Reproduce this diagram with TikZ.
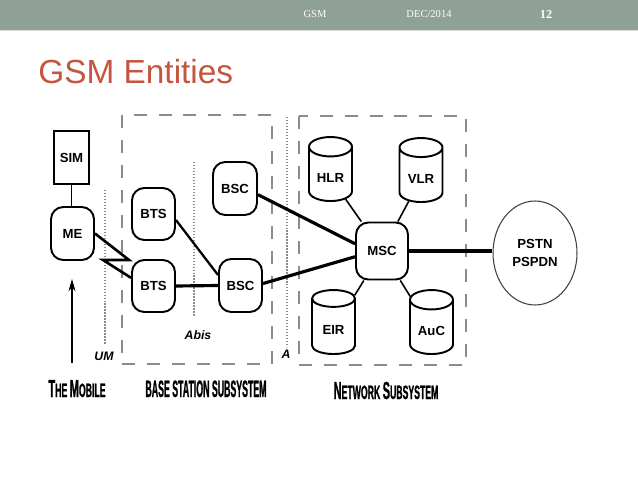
\documentclass[tikz,border=0pt]{standalone}
\usepackage{fontspec}
\setmainfont{Liberation Sans}
\newfontfamily\headfont{Liberation Serif}
\newfontfamily\handfont[FakeStretch=0.45,FakeBold=0.8]{Liberation Sans}
\newfontfamily\handfontnarrow[FakeStretch=0.37,FakeBold=0.8]{Liberation Sans}
\usetikzlibrary{shapes.geometric,arrows.meta}

\definecolor{hdrgreen}{RGB}{143,160,150}
\definecolor{titlered}{RGB}{197,85,62}
\definecolor{boxgray}{RGB}{140,140,140}

\newcommand\capbig[1]{{\fontsize{14}{14}\selectfont #1}}

\tikzset{
  entity/.style={draw, line width=1.1pt, rounded corners=7pt, align=center,
    font=\bfseries\fontsize{7.5}{9}\selectfont},
  card/.style={draw, line width=1.1pt, font=\bfseries\fontsize{7.5}{9}\selectfont},
  register/.style={cylinder, shape border rotate=90, draw, line width=1.1pt,
    aspect=0.5, minimum width=0.86cm, minimum height=1.28cm, anchor=bottom,
    font=\bfseries\fontsize{7.5}{9}\selectfont},
  trunk/.style={line width=1.8pt},
  spoke/.style={line width=0.9pt},
  subsys/.style={draw=boxgray, line width=1.1pt, dash pattern=on 7.4pt off 6.8pt},
  iface/.style={draw=boxgray, line width=0.7pt, densely dotted},
  ifacelabel/.style={font=\bfseries\itshape\fontsize{7}{8}\selectfont},
  grouplabel/.style={font=\handfont\bfseries\fontsize{11}{13}\selectfont, anchor=base},
}

\begin{document}
\begin{tikzpicture}[x=0.02cm, y=-0.02cm]
\useasboundingbox (0,0) rectangle (638,479);

% header bar
\fill[hdrgreen] (0,0) rectangle (638,30);
\draw[gray!30, line width=0.8pt] (0,30.5) -- (638,30.5);
\node[text=white, font=\headfont\fontsize{6}{7}\selectfont] (hgsm) at (315,14) {GSM};
\node[text=white, font=\headfont\fontsize{6}{7}\selectfont] (hdate) at (429,14) {DEC/2014};
\node[text=white, font=\headfont\bfseries\fontsize{7}{8}\selectfont] (hpage) at (546,14) {12};

% title
\node[anchor=base west, inner sep=0, text=titlered, font=\fontsize{19}{22}\selectfont] (title) at (38,84) {GSM Entities};

% subsystem boxes and interfaces
\draw[subsys] (122,115) rectangle (272,364);
\draw[subsys] (299,116) rectangle (466,365);
\draw[iface] (105,190) -- (105,345);
\draw[iface] (194,162) -- (194,317);
\draw[iface] (287,117) -- (287,347);

% mobile
\node[card, minimum width=0.62cm, minimum height=1.06cm] (sim) at (71.5,157.5) {SIM};
\node[entity, minimum width=0.86cm, minimum height=1.06cm] (me) at (72.5,233.5) {ME};

% base station subsystem
\node[entity, minimum width=0.86cm, minimum height=1.04cm] (bts1) at (153.5,214) {BTS};
\node[entity, minimum width=0.86cm, minimum height=1.04cm] (bts2) at (153.5,286) {BTS};
\node[entity, minimum width=0.88cm, minimum height=1.06cm] (bsc1) at (235,188.5) {BSC};
\node[entity, minimum width=0.86cm, minimum height=1.06cm] (bsc2) at (240.5,285.5) {BSC};

% network subsystem
\node[entity, minimum width=1.04cm, minimum height=1.14cm] (msc) at (382,251) {MSC};
\node[register] (hlr) at (330.5,202) {HLR};
\node[register] (vlr) at (421,203) {VLR};
\node[register] (eir) at (333.5,355) {EIR};
\node[register] (auc) at (431.5,355) {AuC};

% external network
\node[ellipse, draw=black!75, line width=0.6pt, minimum width=1.68cm, minimum height=2.08cm,
  align=center, font=\bfseries\fontsize{7.5}{10.5}\selectfont] (pstn) at (535,253) {PSTN\\PSPDN};

% links
\draw[line width=0.9pt] (sim.south) -- (sim.south |- me.north);
\draw[trunk, line width=1.5pt] (me.east) -- (129,260) -- (103,260) -- (bts2.160);
\draw[line width=1.3pt] (bts1.-15) -- (bsc2.155);
\draw[trunk] (bts2.east) -- (bsc2.west);
\draw[trunk] (bsc1.-15) -- (msc.165);
\draw[trunk] (bsc2.5) -- (msc.192);
\draw[trunk, line width=2.2pt] (msc.east) -- (msc.east -| pstn.west);
\draw[spoke] (hlr) -- (msc);
\draw[spoke] (vlr) -- (msc);
\draw[spoke] (eir) -- (msc);
\draw[spoke] (auc) -- (msc);

% mobile arrow
\coordinate (mobfoot) at (72,363);
\coordinate (mobtip) at (72,279);
\draw[line width=0.9pt, -{Stealth[length=7pt, width=4pt]}] (mobfoot) -- (mobtip);

% interface labels
\node[ifacelabel] (um) at (104,356) {UM};
\node[ifacelabel] (abis) at (198,335) {Abis};
\node[ifacelabel] (aif) at (286,354) {A};

% group labels
\node[grouplabel] (lmobile) at (77,397) {\capbig{T}HE \capbig{M}OBILE};
\node[grouplabel, font=\handfontnarrow\bfseries\fontsize{13.5}{15}\selectfont] (lbss) at (206,397) {BASE STATION SUBSYSTEM};
\node[grouplabel] (lnss) at (386,399) {\capbig{N}ETWORK \capbig{S}UBSYSTEM};
\end{tikzpicture}
\end{document}
